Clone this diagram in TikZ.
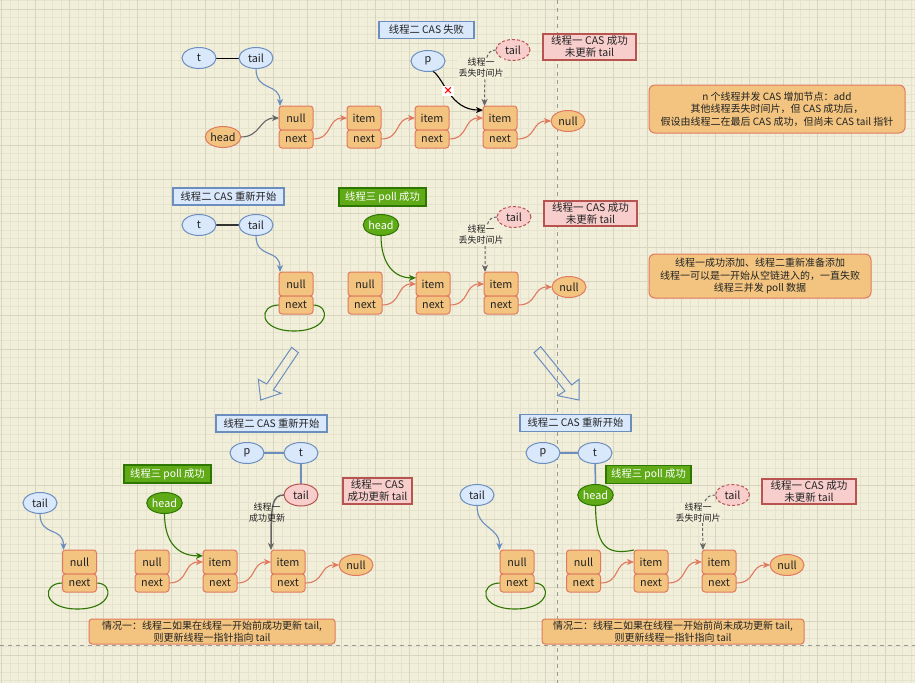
\documentclass[tikz,border=0pt]{standalone}
\usepackage{fontspec}
\setmainfont{Noto Sans CJK SC}
\usetikzlibrary{shapes.geometric,arrows.meta,calc}
\pgfdeclarelayer{bg}
\pgfdeclarelayer{edges}
\pgfsetlayers{bg,edges,main}
\definecolor{paper}{HTML}{F1EEDA}
\definecolor{gridmin}{HTML}{E5E2CD}
\definecolor{gridmaj}{HTML}{D7D4C0}
\definecolor{bfill}{HTML}{DAE8FC}
\definecolor{bline}{HTML}{6C8EBF}
\definecolor{gfill}{HTML}{60A917}
\definecolor{gline}{HTML}{2D7600}
\definecolor{rfill}{HTML}{F8CECC}
\definecolor{rline}{HTML}{B85450}
\definecolor{ofill}{HTML}{F2C480}
\definecolor{oline}{HTML}{E07A5F}
\definecolor{txt}{HTML}{222222}
\definecolor{gry}{HTML}{666666}
\newcommand\mkcell[4]{%
  \node[cellu] (#1u) at (#2,#3) {#4};
  \node[celld, anchor=north] (#1d) at (#1u.south) {next};}
\begin{document}
\begin{tikzpicture}[x=1pt,y=-1pt, font=\fontsize{10}{12.5}\selectfont, text=txt,
  every node/.style={inner sep=0pt, outer sep=0pt},
  ell/.style={ellipse, minimum width=34pt, minimum height=21pt, line width=1pt, font=\fontsize{10.8}{12}\selectfont},
  blueell/.style={ell, draw=bline, fill=bfill},
  pinkell/.style={ell, draw=rline, fill=rfill},
  pinkdash/.style={pinkell, dash pattern=on 3pt off 2pt},
  greenell/.style={ell, draw=gline, fill=gfill, text=white},
  orell/.style={ell, draw=oline, fill=ofill},
  cellu/.style={rectangle, rounded corners=3pt, draw=oline, fill=ofill, line width=1pt, minimum width=34pt, minimum height=24pt, font=\fontsize{10.8}{12}\selectfont},
  celld/.style={cellu, minimum height=18pt},
  titleb/.style={rectangle, draw=bline, fill=bfill, line width=1.2pt, minimum height=17pt, font=\fontsize{10.3}{12}\selectfont},
  titleg/.style={rectangle, draw=gline, fill=gfill, text=white, line width=1.2pt, minimum height=18pt, font=\fontsize{10.3}{12}\selectfont},
  redbox/.style={rectangle, draw=rline, fill=rfill, line width=1.2pt, align=center, font=\fontsize{10.5}{12}\selectfont},
  notebox/.style={rectangle, rounded corners=6pt, draw=oline, fill=ofill, line width=1pt, align=center},
  lab/.style={align=center, font=\fontsize{9}{11}\selectfont, fill=paper, inner sep=0.5pt},
  tip/.style={-{Stealth[length=7pt,width=6pt,inset=2pt]}},
  edgeo/.style={draw=oline, line width=1.1pt, tip},
  edgeb/.style={draw=bline, line width=1.1pt, tip},
  edgegr/.style={draw=gry, line width=1.1pt, tip},
  edgek/.style={draw=black, line width=1.1pt, tip},
  edged/.style={draw=gry, line width=1pt, dash pattern=on 3pt off 2pt, tip},
  edgeg/.style={draw=gline, line width=1.1pt, tip},
  loopg/.style={draw=gline, line width=1.1pt},
  bigarrow/.style={draw=bline, line width=1pt, line join=miter},
  sep/.style={draw=black!40, line width=0.8pt, dash pattern=on 4pt off 4pt}
]
\useasboundingbox (0,0) rectangle (915,683);
\begin{pgfonlayer}{bg}
\fill[paper] (0,0) rectangle (915,683);
\foreach \i in {0,...,107} \draw[gridmin, line width=0.7pt] ({1.7+8.5*\i},0) -- ({1.7+8.5*\i},683);
\foreach \i in {0,...,80} \draw[gridmin, line width=0.7pt] (0,{0.5+8.5*\i}) -- (915,{0.5+8.5*\i});
\foreach \i in {0,...,26} \draw[gridmaj, line width=0.9pt] ({1.7+34*\i},0) -- ({1.7+34*\i},683);
\foreach \i in {0,...,19} \draw[gridmaj, line width=0.9pt] (0,{9+34*\i}) -- (915,{9+34*\i});
\draw[sep] (557,0) -- (557,683);
\draw[sep] (0,645) -- (915,645);
\draw[bigarrow] (291.7,347.3) -- (298.3,352.7) -- (273.3,390) -- (281,393.3) -- (260.7,400) -- (258.3,379.3) -- (266.7,384) -- cycle;
\draw[bigarrow] (540.7,346.7) -- (534,352.7) -- (565,391) -- (557.7,395.7) -- (579,400) -- (579,379.3) -- (571.7,385) -- cycle;
\end{pgfonlayer}

% ---------- panel 1 ----------
\node[titleb, minimum width=95pt] (T1) at (426.5,30) {线程二 CAS 失败};
\node[blueell] (t1) at (199,58) {t};
\node[blueell] (tl1) at (256,58) {tail};
\node[blueell] (p1) at (428,61) {p};
\node[pinkdash] (td1) at (513,50) {tail};
\node[redbox, minimum width=93pt, minimum height=26pt] (R1) at (589.5,47) {线程一 CAS 成功\\未更新 tail};
\node[orell] (h1) at (223,137) {head};
\mkcell{a1}{296}{118}{null}
\mkcell{b1}{364}{118}{item}
\mkcell{c1}{432}{118}{item}
\mkcell{d1}{500}{118}{item}
\node[orell] (e1) at (568,121) {null};
\node[notebox, minimum width=256pt, minimum height=48pt] (N1) at (777,109) {n 个线程并发 CAS 增加节点：add\\其他线程丢失时间片，但 CAS 成功后，\\假设由线程二在最后 CAS 成功，但尚未 CAS tail 指针};
\begin{pgfonlayer}{edges}
\draw[black, line width=1pt] (t1) -- (tl1);
\draw[edgeb] (tl1.south) .. controls +(0,24) and +(0,-24) .. ([xshift=1pt]a1u.north west);
\draw[edgegr] (h1.east) .. controls +(20,0) and +(-20,0) .. (a1u.west);
\draw[edgeo] (a1d.east) .. controls +(20,0) and +(-20,0) .. (b1u.west);
\draw[edgeo] (b1d.east) .. controls +(20,0) and +(-20,0) .. (c1u.west);
\draw[edgeo] (c1d.east) .. controls +(20,0) and +(-20,0) .. (d1u.west);
\draw[edgeo] (d1d.east) .. controls +(20,0) and +(-20,0) .. (e1.west);
\draw[edgek] (p1.-65) .. controls (444,78) and (450,110) .. (d1u.155);
\draw[edged] (td1.west) .. controls (485,50) and (485,60) .. ([xshift=1.5pt]d1u.north west);
\end{pgfonlayer}
\node[lab] (L1) at (481,68) {线程一\\丢失时间片};
\node[fill=white, text=red, inner sep=1.2pt, font=\fontsize{10}{10}\selectfont\bfseries] (X1) at (448,91) {×};

% ---------- panel 2 ----------
\node[titleb, minimum width=111pt] (T2) at (228.5,196.5) {线程二 CAS 重新开始};
\node[titleg, minimum width=87pt] (G2) at (382.5,197) {线程三 poll 成功};
\node[blueell] (t2) at (199,225) {t};
\node[blueell] (tl2) at (256,225) {tail};
\node[greenell] (h2) at (381,225) {head};
\node[pinkdash] (td2) at (514,217) {tail};
\node[redbox, minimum width=93pt, minimum height=25pt] (R2) at (590.5,213.5) {线程一 CAS 成功\\未更新 tail};
\mkcell{a2}{296}{284}{null}
\mkcell{b2}{365}{284}{null}
\mkcell{c2}{433}{284}{item}
\mkcell{d2}{501}{284}{item}
\node[orell] (e2) at (569,287) {null};
\node[notebox, minimum width=222pt, minimum height=44pt] (N2) at (760,276) {线程一成功添加、线程二重新准备添加\\线程一可以是一开始从空链进入的，一直失败\\线程三并发 poll 数据};
\begin{pgfonlayer}{edges}
\draw[draw=black!80, line width=1.5pt] (t2) -- (tl2);
\draw[edgeb] (tl2.south) .. controls +(0,24) and +(0,-24) .. ([xshift=1pt]a2u.north west);
\draw[loopg] (a2d.west) .. controls (258,305) and (258,331) .. (294,331) .. controls (330,331) and (331,305) .. (a2d.east);
\draw[edgeg] (h2.south) .. controls (381,265) and (395,278) .. (c2u.160);
\draw[edgeo] (b2d.east) .. controls +(20,0) and +(-20,0) .. (c2u.west);
\draw[edgeo] (c2d.east) .. controls +(20,0) and +(-20,0) .. (d2u.west);
\draw[edgeo] (d2d.east) .. controls +(20,0) and +(-20,0) .. (e2.west);
\draw[edged] (td2.west) .. controls (486,217) and (485,226) .. ([xshift=1pt]d2u.north west);
\end{pgfonlayer}
\node[lab] (L2) at (481,235) {线程一\\丢失时间片};

% ---------- panel 3 ----------
\node[titleb, minimum width=111pt] (T3) at (271.5,423.5) {线程二 CAS 重新开始};
\node[blueell] (p3) at (247,453) {p};
\node[blueell] (t3) at (301,453) {t};
\node[pinkell, minimum height=22pt] (tp3) at (301,495) {tail};
\node[titleg, minimum width=87pt] (G3) at (167.5,474) {线程三 poll 成功};
\node[redbox, minimum width=69pt, minimum height=26pt] (R3) at (377.5,491) {线程一 CAS\\成功更新 tail};
\node[blueell] (tl3) at (40,503) {tail};
\node[greenell] (h3) at (164.5,503) {head};
\mkcell{a3}{79.5}{562}{null}
\mkcell{b3}{152}{562}{null}
\mkcell{c3}{220}{562}{item}
\mkcell{d3}{288}{562}{item}
\node[orell] (e3) at (356,565) {null};
\node[notebox, rounded corners=3pt, minimum width=246pt, minimum height=25pt, font=\fontsize{10}{11.5}\selectfont] (N3) at (212,631.5) {情况一：线程二如果在线程一开始前成功更新 tail,\\则更新线程一指针指向 tail};
\begin{pgfonlayer}{edges}
\draw[draw=bline, line width=1.5pt] (p3) -- (t3);
\draw[draw=bline, line width=1.5pt] (t3) -- (tp3);
\draw[edgegr, line width=1.5pt] (tp3.west) .. controls (272,495) and (271,505) .. (d3u.north west);
\draw[edgeb] (tl3.south) .. controls +(0,24) and +(0,-24) .. ([xshift=1pt]a3u.north west);
\draw[loopg] (a3d.west) .. controls (41.5,583) and (41.5,609) .. (77.5,609) .. controls (113.5,609) and (114.5,583) .. (a3d.east);
\draw[edgeg] (h3.south) .. controls (164.5,545) and (180,556) .. (c3u.160);
\draw[edgeo] (b3d.east) .. controls +(20,0) and +(-20,0) .. (c3u.west);
\draw[edgeo] (c3d.east) .. controls +(20,0) and +(-20,0) .. (d3u.west);
\draw[edgeo] (d3d.east) .. controls +(20,0) and +(-20,0) .. (e3.west);
\end{pgfonlayer}
\node[lab, fill=none] (L3) at (267,513) {线程一\\成功更新};

% ---------- panel 4 ----------
\node[titleb, minimum width=111pt] (T4) at (575.5,423) {线程二 CAS 重新开始};
\node[blueell] (p4) at (543,453) {p};
\node[blueell] (t4) at (595,453) {t};
\node[greenell] (h4) at (595.5,495) {head};
\node[titleg, minimum width=85pt] (G4) at (648.5,474.5) {线程三 poll 成功};
\node[pinkdash] (td4) at (732.5,495) {tail};
\node[redbox, minimum width=94pt, minimum height=25pt] (R4) at (809,491.5) {线程一 CAS 成功\\未更新 tail};
\node[blueell] (tl4) at (477,495) {tail};
\mkcell{a4}{517}{562}{null}
\mkcell{b4}{583.5}{562}{null}
\mkcell{c4}{651}{562}{item}
\mkcell{d4}{719}{562}{item}
\node[orell] (e4) at (787,565) {null};
\node[notebox, rounded corners=3pt, minimum width=262pt, minimum height=25pt, font=\fontsize{10}{11.5}\selectfont] (N4) at (673,631.5) {情况二：线程二如果在线程一开始前尚未成功更新 tail,\\则更新线程一指针指向 tail};
\begin{pgfonlayer}{edges}
\draw[draw=bline, line width=1.5pt] (p4) -- (t4);
\draw[draw=bline, line width=1.5pt] (t4) -- (h4);
\draw[edgeb] (tl4.south) .. controls +(0,24) and +(0,-24) .. ([xshift=-0.5pt]a4u.north west);
\draw[loopg] (a4d.west) .. controls (479,583) and (479,609) .. (515,609) .. controls (551,609) and (552,583) .. (a4d.east);
\draw[loopg] (h4.south) .. controls (596,545) and (605,556) .. (c4u.north west);
\draw[edgeo] (b4d.east) .. controls +(20,0) and +(-20,0) .. (c4u.west);
\draw[edgeo] (c4d.east) .. controls +(20,0) and +(-20,0) .. (d4u.west);
\draw[edgeo] (d4d.east) .. controls +(20,0) and +(-20,0) .. (e4.west);
\draw[edged] (td4.west) .. controls (702,495) and (702,505) .. ([xshift=1pt]d4u.north west);
\end{pgfonlayer}
\node[lab] (L4) at (698,513) {线程一\\丢失时间片};
\end{tikzpicture}
\end{document}
